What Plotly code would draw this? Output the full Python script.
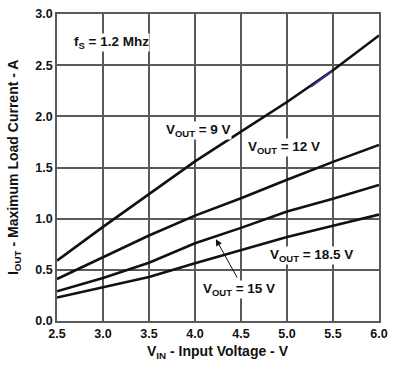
import plotly.graph_objects as go

vin = [2.5, 3.0, 3.5, 4.0, 4.5, 5.0, 5.5, 6.0]
i_9v = [0.59, 0.92, 1.24, 1.56, 1.85, 2.14, 2.45, 2.79]
i_12v = [0.41, 0.625, 0.835, 1.03, 1.20, 1.38, 1.555, 1.72]
i_15v = [0.29, 0.42, 0.57, 0.76, 0.91, 1.07, 1.195, 1.33]
i_185v = [0.23, 0.33, 0.43, 0.565, 0.69, 0.82, 0.93, 1.04]
hl_x = [5.26, 5.49]
hl_y = [2.29, 2.44]

xticks = [2.5, 3.0, 3.5, 4.0, 4.5, 5.0, 5.5, 6.0]
yticks = [0.0, 0.5, 1.0, 1.5, 2.0, 2.5, 3.0]

FONT = "Liberation Sans, Arial, sans-serif"

fig = go.Figure()
for ys in [i_9v, i_12v, i_15v, i_185v]:
    fig.add_trace(go.Scatter(x=vin, y=ys, mode="lines",
                             line=dict(color="#111111", width=2.6),
                             showlegend=False, hoverinfo="skip"))
fig.add_trace(go.Scatter(x=hl_x, y=hl_y, mode="lines",
                         line=dict(color="#3b2e9c", width=1.8),
                         showlegend=False, hoverinfo="skip"))

axis_common = dict(
    showgrid=True, gridcolor="#5a5a5a", gridwidth=1.5,
    showline=True, linecolor="#5a5a5a", linewidth=1.5, mirror=True,
    ticks="", zeroline=False,
    tickfont=dict(family=FONT, size=12.5, color="#111111", weight="bold"),
)

fig.update_xaxes(range=[2.5, 6.0], tickvals=xticks,
                 ticktext=[f"{v:.1f}" for v in xticks], **axis_common)
fig.update_yaxes(range=[0, 3.0], tickvals=yticks,
                 ticktext=[f"{v:.1f}" for v in yticks], **axis_common)

tf = dict(family=FONT, size=13.5, color="#111111", weight="bold")
ttf = dict(family=FONT, size=14, color="#111111", weight="bold")
ann = [
    dict(x=2.67, y=2.72, text="f<sub>S</sub> = 1.2 Mhz"),
    dict(x=3.67, y=1.86, text="V<sub>OUT</sub> = 9 V"),
    dict(x=4.56, y=1.70, text="V<sub>OUT</sub> = 12 V"),
    dict(x=4.80, y=0.645, text="V<sub>OUT</sub> = 18.5 V"),
    dict(x=4.08, y=0.31, text="V<sub>OUT</sub> = 15 V"),
]
for a in ann:
    fig.add_annotation(xref="x", yref="y", showarrow=False, yanchor="middle",
                       xanchor="left", font=tf, bgcolor="white", borderpad=0, **a)

fig.add_annotation(xref="x", yref="y", x=4.227, y=0.80, ax=4.467, ay=0.41,
                   axref="x", ayref="y", text="", showarrow=True,
                   arrowhead=2, arrowsize=1.3, arrowwidth=1, arrowcolor="#111111",
                   standoff=0)

fig.add_annotation(xref="paper", yref="paper", x=0.5, y=-0.1,
                   text="V<sub>IN</sub> - Input Voltage - V", showarrow=False,
                   yanchor="middle", font=ttf)
fig.add_annotation(xref="paper", yref="paper", x=-0.135, y=0.5,
                   text="I<sub>OUT</sub> - Maximum Load Current - A", showarrow=False,
                   textangle=-90, xanchor="center", font=ttf)

fig.update_layout(
    width=396, height=371,
    margin=dict(l=57, r=17, t=7, b=50),
    plot_bgcolor="white", paper_bgcolor="white",
)

fig.write_html("out.html", config={"displayModeBar": False},
               post_script="document.body.style.margin='0';document.body.style.padding='0';")
